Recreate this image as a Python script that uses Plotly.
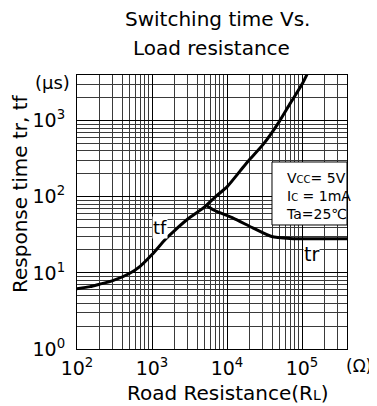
import plotly.graph_objects as go

# ---- data ----
tf_x = [100, 150, 200, 300, 500, 700, 1000, 1500, 2000, 3000, 5000, 7000,
        10000, 15000, 20000, 30000, 50000, 70000, 100000, 120000]
tf_y = [6.2, 6.6, 7.1, 7.9, 9.8, 12.3, 17.4, 27.5, 36, 51, 73, 100,
        135, 219, 309, 480, 980, 1700, 3000, 4300]

tr_x = [5400, 6500, 9000, 12100, 22400, 39400, 69000, 150000, 400000]
tr_y = [76, 67.5, 59, 52.5, 38.7, 30, 28.4, 28, 28]

x_tickvals = [1e2, 1e3, 1e4, 1e5]
x_ticktext = ["10<sup>2</sup>", "10<sup>3</sup>", "10<sup>4</sup>", "10<sup>5</sup>"]
y_tickvals = [1, 10, 100, 1000]
y_ticktext = ["10<sup>0</sup>", "10<sup>1</sup>", "10<sup>2</sup>", "10<sup>3</sup>"]

FONT = "DejaVu Sans"

fig = go.Figure()
fig.add_trace(go.Scatter(x=tf_x, y=tf_y, mode="lines",
                         line=dict(color="black", width=3, shape="spline", smoothing=0.6),
                         showlegend=False, hoverinfo="skip"))
fig.add_trace(go.Scatter(x=tr_x, y=tr_y, mode="lines",
                         line=dict(color="black", width=3, shape="spline", smoothing=0.6),
                         showlegend=False, hoverinfo="skip"))

axis_common = dict(
    type="log", showline=True, linecolor="black", linewidth=1, mirror=True,
    showgrid=True, gridcolor="black", gridwidth=1, zeroline=False,
    ticks="", tickmode="array", automargin=False,
    tickfont=dict(family=FONT, size=19, color="black"),
    minor=dict(showgrid=True, dtick="D1", gridcolor="#3a3a3a", gridwidth=1, ticks=""),
)

fig.update_xaxes(range=[2, 5.6], tickvals=x_tickvals, ticktext=x_ticktext,
                 ticklabelstandoff=2, **axis_common)
fig.update_yaxes(range=[0, 3.6], tickvals=y_tickvals, ticktext=y_ticktext,
                 ticklabelstandoff=7, **axis_common)

ann = []
def A(text, x, y, size, **kw):
    d = dict(text=text, x=x, y=y, xref="paper", yref="paper", showarrow=False,
             font=dict(family=FONT, size=size, color="black"),
             xanchor="center", yanchor="middle")
    d.update(kw)
    ann.append(d)

A("Switching time Vs.", 0.5204, 1.205, 20)
A("Load resistance", 0.4963, 1.10, 20)
A("Response time tr, tf", -0.213, 0.5675, 20, textangle=-90)
A("Road Resistance(R<span style='font-size:14px'>L</span>)", 0.559, -0.16, 20)
A("(Ω)", 1.1, -0.062, 17, xanchor="right")
A("(μs)", -0.089, 0.972, 18)
A("tf", 0.306, 0.445, 18, bgcolor="white", borderpad=0)
A("tr", 0.8667, 0.3467, 19, bgcolor="white", borderpad=0)
A("V<span style='font-size:10px'>CC</span>= 5V<br>I<span style='font-size:10px'>C</span> = 1mA<br>Ta=25℃",
  0.765, 0.558, 14, xanchor="left", align="left")

# page body has an 8px margin, so the figure is smaller and margins shifted
fig.update_layout(
    template="none",
    width=369, height=398,
    margin=dict(l=69, r=30, t=67, b=57, autoexpand=False),
    paper_bgcolor="white", plot_bgcolor="white",
    annotations=ann,
    shapes=[dict(type="rect", xref="paper", yref="paper",
                 x0=0.7222, x1=1.0, y0=0.4526, y1=0.6825,
                 fillcolor="white", line=dict(color="black", width=1), layer="above")],
)

fig.write_html("out.html")
